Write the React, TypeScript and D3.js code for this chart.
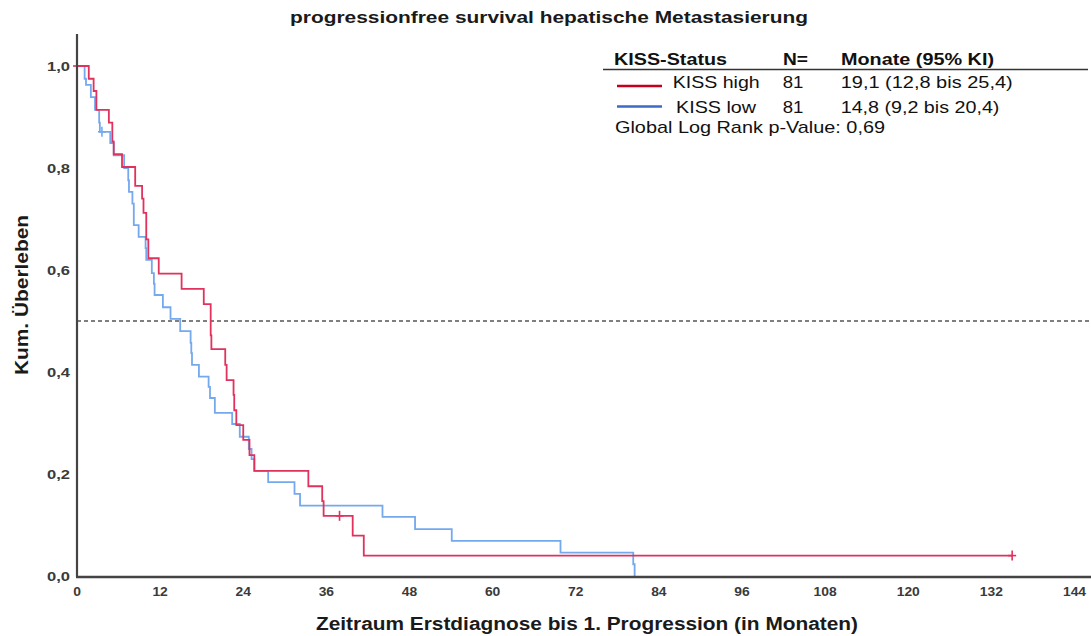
import React from "react";
import * as d3 from "d3";

const title = "progressionfree survival hepatische Metastasierung";
const xLabel = "Zeitraum Erstdiagnose bis 1. Progression (in Monaten)";
const yLabel = "Kum. Überleben";

const xTicks = [0, 12, 24, 36, 48, 60, 72, 84, 96, 108, 120, 132, 144];
const yTicks = [0, 0.2, 0.4, 0.6, 0.8, 1.0];

// KISS high (red) step curve
const highTimes = [0, 1.7, 2.4, 2.8, 4.6, 5.1, 5.3, 6.5, 8.4, 9.4, 9.6, 10.0, 10.3, 11.8, 15.1, 18.3, 19.3, 19.4, 21.4, 21.6, 22.6, 22.7, 23.0, 24.0, 24.9, 25.6, 33.4, 35.4, 35.6, 39.8, 41.4, 135];
const highSurv = [1.0, 0.975, 0.951, 0.914, 0.889, 0.852, 0.827, 0.802, 0.765, 0.74, 0.712, 0.66, 0.623, 0.593, 0.563, 0.533, 0.472, 0.445, 0.414, 0.384, 0.355, 0.325, 0.296, 0.267, 0.237, 0.206, 0.176, 0.147, 0.118, 0.079, 0.04, 0.04];
const highCensorTimes = [0, 37.9, 135];
const highCensorSurv = [1.0, 0.118, 0.04];

// KISS low (blue) step curve
const lowTimes = [0, 1.1, 1.3, 2.0, 2.6, 3.2, 3.3, 4.8, 5.3, 6.8, 7.4, 7.5, 8.0, 8.2, 8.9, 9.9, 10.0, 10.8, 11.1, 11.2, 12.4, 13.5, 14.9, 16.4, 16.5, 16.6, 17.6, 19.0, 19.2, 19.9, 22.4, 23.5, 24.8, 25.2, 25.6, 27.6, 31.4, 32.2, 44.1, 48.8, 54.1, 69.8, 80.3, 80.5];
const lowSurv = [1.0, 0.975, 0.963, 0.939, 0.914, 0.889, 0.871, 0.849, 0.825, 0.8, 0.776, 0.753, 0.73, 0.688, 0.665, 0.643, 0.62, 0.594, 0.573, 0.551, 0.527, 0.504, 0.48, 0.457, 0.437, 0.414, 0.391, 0.371, 0.349, 0.32, 0.298, 0.273, 0.249, 0.229, 0.206, 0.184, 0.161, 0.138, 0.116, 0.092, 0.069, 0.046, 0.023, 0];
const lowCensorTimes = [3.6];
const lowCensorSurv = [0.871];

const legendGroups = ["KISS high", "KISS low"];
const legendN = ["81", "81"];
const legendMedian = ["19,1 (12,8 bis 25,4)", "14,8 (9,2 bis 20,4)"];
const pValueText = "Global Log Rank p-Value: 0,69";

const FONT = "'Liberation Sans', Arial, Helvetica, sans-serif";

export default function App() {
  const W = 1091;
  const H = 636;
  const x = d3.scaleLinear().domain([0, 144]).range([77, 1074.5]);
  const y = d3.scaleLinear().domain([0, 1]).range([576, 66]);

  const line = d3
    .line<[number, number]>()
    .x((d) => x(d[0]))
    .y((d) => y(d[1]))
    .curve(d3.curveStepAfter);

  const highPts: [number, number][] = highTimes.map((t, i) => [t, highSurv[i]]);
  const lowPts: [number, number][] = lowTimes.map((t, i) => [t, lowSurv[i]]);

  const redCurve = "#e0325c";
  const blueCurve = "#74a9ee";
  const redLegend = "#c4001c";
  const blueLegend = "#3f69c6";

  const fmt = (v: number) => v.toFixed(1).replace(".", ",");

  return (
    <svg
      width={W}
      height={H}
      style={{ position: "absolute", left: 0, top: 0, background: "#fff" }}
      fontFamily={FONT}
    >
      <rect x={0} y={0} width={W} height={H} fill="#fff" />
      <text x={549} y={23} textAnchor="middle" fontSize={16} fontWeight="bold" fill="#1a1a1a" textLength={518} lengthAdjust="spacingAndGlyphs">
        {title}
      </text>

      {/* reference line at 0.5 */}
      <line x1={x(0)} x2={W} y1={y(0.5)} y2={y(0.5)} stroke="#555" strokeWidth={1.5} strokeDasharray="4,3" />

      {/* curves */}
      <path d={line(lowPts) || ""} fill="none" stroke={blueCurve} strokeWidth={1.8} />
      <path d={line(highPts) || ""} fill="none" stroke={redCurve} strokeWidth={1.8} />

      {lowCensorTimes.map((t, i) => (
        <g key={"lc" + i}>
          <line x1={x(t)} x2={x(t)} y1={y(lowCensorSurv[i]) - 5} y2={y(lowCensorSurv[i]) + 5} stroke={blueCurve} strokeWidth={1.6} />
          <line x1={x(t) - 4} x2={x(t) + 4} y1={y(lowCensorSurv[i])} y2={y(lowCensorSurv[i])} stroke={blueCurve} strokeWidth={1.6} />
        </g>
      ))}
      {highCensorTimes.map((t, i) => (
        <g key={"hc" + i}>
          <line x1={x(t)} x2={x(t)} y1={y(highCensorSurv[i]) - 5} y2={y(highCensorSurv[i]) + 5} stroke={redCurve} strokeWidth={1.6} />
          <line x1={x(t) - 4} x2={x(t) + 4} y1={y(highCensorSurv[i])} y2={y(highCensorSurv[i])} stroke={redCurve} strokeWidth={1.6} />
        </g>
      ))}

      {/* axes */}
      <line x1={x(0)} x2={x(0)} y1={34} y2={y(0) + 1} stroke="#444" strokeWidth={2.2} />
      <line x1={x(0) - 1} x2={W} y1={y(0) + 1} y2={y(0) + 1} stroke="#444" strokeWidth={2.4} />

      {yTicks.map((v) => (
        <text key={"yt" + v} x={70} y={y(v) + 4.5} textAnchor="end" fontSize={13} fontWeight="bold" fill="#3a3a3a" textLength={23} lengthAdjust="spacingAndGlyphs">
          {fmt(v)}
        </text>
      ))}
      {xTicks.map((v) => (
        <text key={"xt" + v} x={x(v)} y={596} textAnchor="middle" fontSize={13} fontWeight="bold" fill="#3a3a3a" textLength={String(v).length * 7.7} lengthAdjust="spacingAndGlyphs">
          {String(v)}
        </text>
      ))}

      <text x={587} y={630} textAnchor="middle" fontSize={17.5} fontWeight="bold" fill="#1a1a1a" textLength={542} lengthAdjust="spacingAndGlyphs">
        {xLabel}
      </text>
      <text transform="translate(28,295) rotate(-90)" textAnchor="middle" fontSize={18} fontWeight="bold" fill="#1a1a1a" textLength={160} lengthAdjust="spacingAndGlyphs">
        {yLabel}
      </text>

      {/* legend */}
      <g fontSize={17} fill="#111">
        <text x={614} y={65} fontWeight="bold" textLength={113} lengthAdjust="spacingAndGlyphs">KISS-Status</text>
        <text x={783} y={65} fontWeight="bold" textLength={25} lengthAdjust="spacingAndGlyphs">N=</text>
        <text x={841} y={65} fontWeight="bold" textLength={153} lengthAdjust="spacingAndGlyphs">Monate (95% KI)</text>
        <line x1={603} x2={1088} y1={69.5} y2={69.5} stroke="#333" strokeWidth={1.6} />
        {legendGroups.map((g, i) => {
          const base = i === 0 ? 87.5 : 112.5;
          const ly = i === 0 ? 86 : 106.5;
          const col = i === 0 ? redLegend : blueLegend;
          const gx = i === 0 ? 672.7 : 676;
          const gw = i === 0 ? 87 : 80;
          const mw = i === 0 ? 172 : 158.7;
          return (
            <g key={g}>
              <line x1={617} x2={662} y1={ly} y2={ly} stroke={col} strokeWidth={2.5} />
              <text x={gx} y={base} textLength={gw} lengthAdjust="spacingAndGlyphs">{g}</text>
              <text x={782.7} y={base} textLength={20.7} lengthAdjust="spacingAndGlyphs">{legendN[i]}</text>
              <text x={840.7} y={base} textLength={mw} lengthAdjust="spacingAndGlyphs">{legendMedian[i]}</text>
            </g>
          );
        })}
        <text x={615} y={132.5} textLength={270} lengthAdjust="spacingAndGlyphs">{pValueText}</text>
      </g>
    </svg>
  );
}
